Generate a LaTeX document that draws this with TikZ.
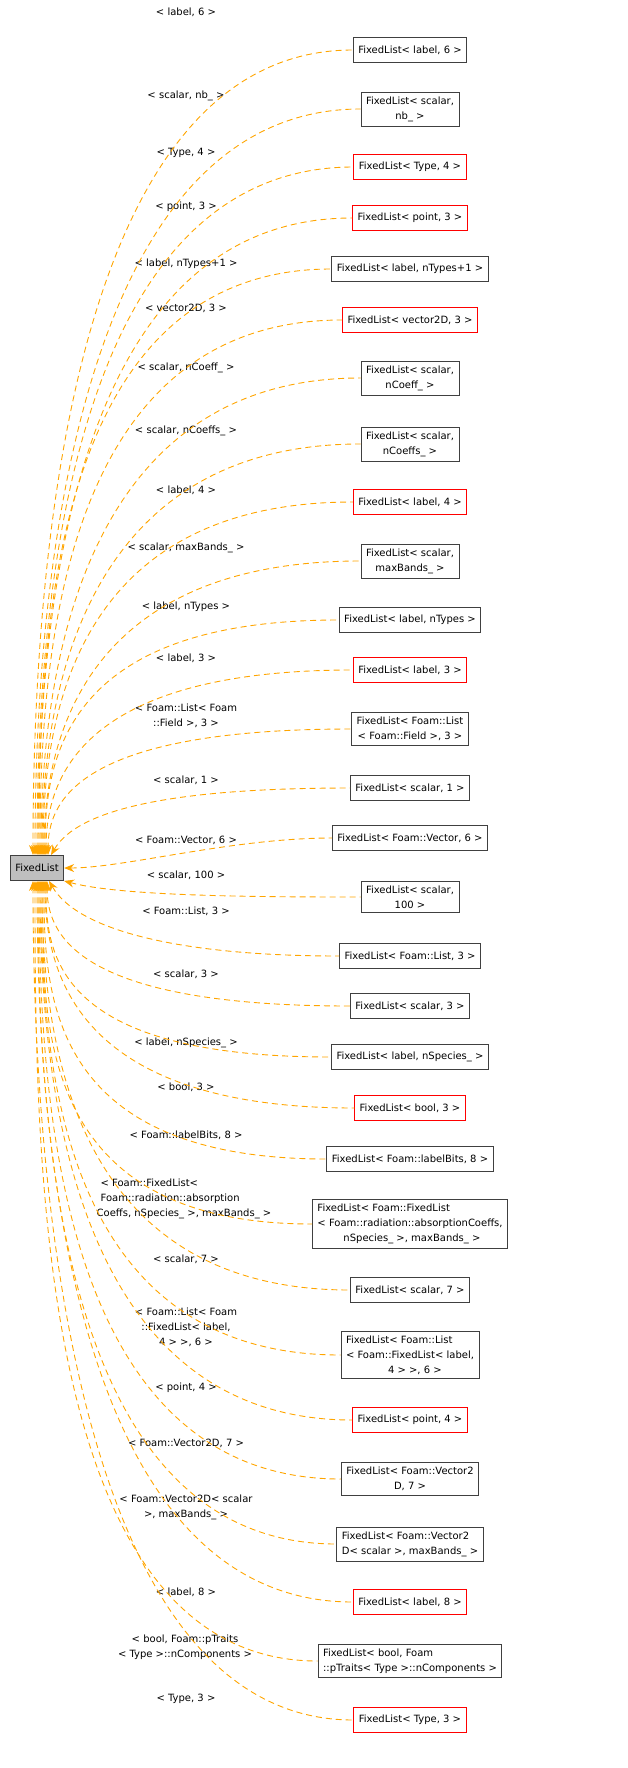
\documentclass[tikz,border=0pt]{standalone}
\usepackage{fontspec}
\setmainfont{DejaVu Sans}
\usetikzlibrary{positioning}
\usetikzlibrary{arrows.meta}
\definecolor{edgeorange}{HTML}{FFA500}
\definecolor{boxgray}{HTML}{404040}
\definecolor{boxred}{HTML}{FF0000}

\begin{document}
\begin{tikzpicture}[x=1pt,y=-1pt,
font=\fontsize{10}{15}\selectfont,
classnode/.style={rectangle, draw=boxgray, line width=0.9pt, align=center, inner xsep=5pt, inner ysep=4.5pt, minimum height=25pt},
rednode/.style={classnode, draw=boxred},
rootnode/.style={classnode, fill=black!25},
edgelabel/.style={align=center, inner sep=0pt},
edge/.style={<-, >={Stealth[length=10pt,width=8pt]}, draw=edgeorange, line width=0.9pt, dash pattern=on 6pt off 4pt}
]
\useasboundingbox (0,0) rectangle (628,1768);

%Nodes
\node[rootnode] (root) at (37,868) {FixedList};
\node[classnode] (n1) at (410,50) {FixedList< label, 6 >};
\node[classnode] (n2) at (410,109) {FixedList< scalar,\\ nb\_ >};
\node[rednode] (n3) at (410,167) {FixedList< Type, 4 >};
\node[rednode] (n4) at (410,218) {FixedList< point, 3 >};
\node[classnode] (n5) at (410,269) {FixedList< label, nTypes+1 >};
\node[rednode] (n6) at (410,320) {FixedList< vector2D, 3 >};
\node[classnode] (n7) at (410,378) {FixedList< scalar,\\ nCoeff\_ >};
\node[classnode] (n8) at (410,444) {FixedList< scalar,\\ nCoeffs\_ >};
\node[rednode] (n9) at (410,502) {FixedList< label, 4 >};
\node[classnode] (n10) at (410,561) {FixedList< scalar,\\ maxBands\_ >};
\node[classnode] (n11) at (410,620) {FixedList< label, nTypes >};
\node[rednode] (n12) at (410,670) {FixedList< label, 3 >};
\node[classnode] (n13) at (410,729) {FixedList< Foam::List\\< Foam::Field >, 3 >};
\node[classnode] (n14) at (410,788) {FixedList< scalar, 1 >};
\node[classnode] (n15) at (410,838) {FixedList< Foam::Vector, 6 >};
\node[classnode] (n16) at (410,897) {FixedList< scalar,\\ 100 >};
\node[classnode] (n17) at (410,956) {FixedList< Foam::List, 3 >};
\node[classnode] (n18) at (410,1006) {FixedList< scalar, 3 >};
\node[classnode] (n19) at (410,1057) {FixedList< label, nSpecies\_ >};
\node[rednode] (n20) at (410,1108) {FixedList< bool, 3 >};
\node[classnode] (n21) at (410,1159) {FixedList< Foam::labelBits, 8 >};
\node[classnode, align=left] (n22) at (410,1224) {FixedList< Foam::FixedList\\< Foam::radiation::absorptionCoeffs,\\\hspace*{26pt}nSpecies\_ >, maxBands\_ >};
\node[classnode] (n23) at (410,1290) {FixedList< scalar, 7 >};
\node[classnode, align=left] (n24) at (410,1355) {FixedList< Foam::List\\< Foam::FixedList< label,\\\hspace*{42pt}4 > >, 6 >};
\node[rednode] (n25) at (410,1420) {FixedList< point, 4 >};
\node[classnode] (n26) at (410,1479) {FixedList< Foam::Vector2\\D, 7 >};
\node[classnode, align=left] (n27) at (410,1544) {FixedList< Foam::Vector2\\D< scalar >, maxBands\_ >};
\node[rednode] (n28) at (410,1602) {FixedList< label, 8 >};
\node[classnode, align=left] (n29) at (410,1661) {FixedList< bool, Foam\\::pTraits< Type >::nComponents >};
\node[rednode] (n30) at (410,1720) {FixedList< Type, 3 >};

%Edge labels
\node[edgelabel] (l1) at (186,12) {< label, 6 >};
\node[edgelabel] (l2) at (186,96) {< scalar, nb\_ >};
\node[edgelabel] (l3) at (186,153) {< Type, 4 >};
\node[edgelabel] (l4) at (186,207) {< point, 3 >};
\node[edgelabel] (l5) at (186,264) {< label, nTypes+1 >};
\node[edgelabel] (l6) at (186,308) {< vector2D, 3 >};
\node[edgelabel] (l7) at (186,368) {< scalar, nCoeff\_ >};
\node[edgelabel] (l8) at (186,431) {< scalar, nCoeffs\_ >};
\node[edgelabel] (l9) at (186,490) {< label, 4 >};
\node[edgelabel] (l10) at (186,548) {< scalar, maxBands\_ >};
\node[edgelabel] (l11) at (186,607) {< label, nTypes >};
\node[edgelabel] (l12) at (186,658) {< label, 3 >};
\node[edgelabel] (l13) at (186,716) {< Foam::List< Foam\\::Field >, 3 >};
\node[edgelabel] (l14) at (186,780) {< scalar, 1 >};
\node[edgelabel] (l15) at (186,840) {< Foam::Vector, 6 >};
\node[edgelabel] (l16) at (186,875) {< scalar, 100 >};
\node[edgelabel] (l17) at (186,911) {< Foam::List, 3 >};
\node[edgelabel] (l18) at (186,974) {< scalar, 3 >};
\node[edgelabel] (l19) at (186,1043) {< label, nSpecies\_ >};
\node[edgelabel] (l20) at (186,1087) {< bool, 3 >};
\node[edgelabel] (l21) at (186,1135) {< Foam::labelBits, 8 >};
\node[edgelabel, align=left] (l22) at (184,1199) {\hspace*{4pt}< Foam::FixedList<\\\hspace*{4pt}Foam::radiation::absorption\\Coeffs, nSpecies\_ >, maxBands\_ >};
\node[edgelabel] (l23) at (186,1259) {< scalar, 7 >};
\node[edgelabel] (l24) at (186,1327) {< Foam::List< Foam\\::FixedList< label,\\4 > >, 6 >};
\node[edgelabel] (l25) at (186,1388) {< point, 4 >};
\node[edgelabel] (l26) at (186,1443) {< Foam::Vector2D, 7 >};
\node[edgelabel] (l27) at (186,1507) {< Foam::Vector2D< scalar\\>, maxBands\_ >};
\node[edgelabel] (l28) at (186,1592) {< label, 8 >};
\node[edgelabel] (l29) at (185,1647) {< bool, Foam::pTraits\\< Type >::nComponents >};
\node[edgelabel] (l30) at (186,1699) {< Type, 3 >};

%Edges
\foreach \n/\d/\s in {n1/300/-4, n2/280/-2, n3/260/0, n4/240/1, n5/220/2, n6/200/3,
  n7/180/4, n8/155/5, n9/135/6, n10/110/7, n11/90/8, n12/70/9, n13/50/11}
  \draw[edge] ([xshift=\s]root.north) to[out=90, in=180, out distance=\d, in distance=280] (\n.west);
\draw[edge] ([xshift=14]root.north) to[out=60, in=180, out distance=60, in distance=150] (n14.west);
\draw[edge] (root.east) to[out=0, in=180, out distance=60, in distance=100] (n15.west);
\draw[edge] (root.south east) to[out=-15, in=180, out distance=60, in distance=100] (n16.west);
\draw[edge] ([xshift=12]root.south) to[out=-60, in=180, out distance=60, in distance=150] (n17.west);
\foreach \n/\d/\s in {n18/50/10, n19/70/9, n20/90/8, n21/110/7, n22/135/6, n23/155/5,
  n24/180/4, n25/200/3, n26/220/2, n27/240/1, n28/260/0, n29/280/-2, n30/300/-4}
  \draw[edge] ([xshift=\s]root.south) to[out=-90, in=180, out distance=\d, in distance=280] (\n.west);

\end{tikzpicture}
\end{document}
